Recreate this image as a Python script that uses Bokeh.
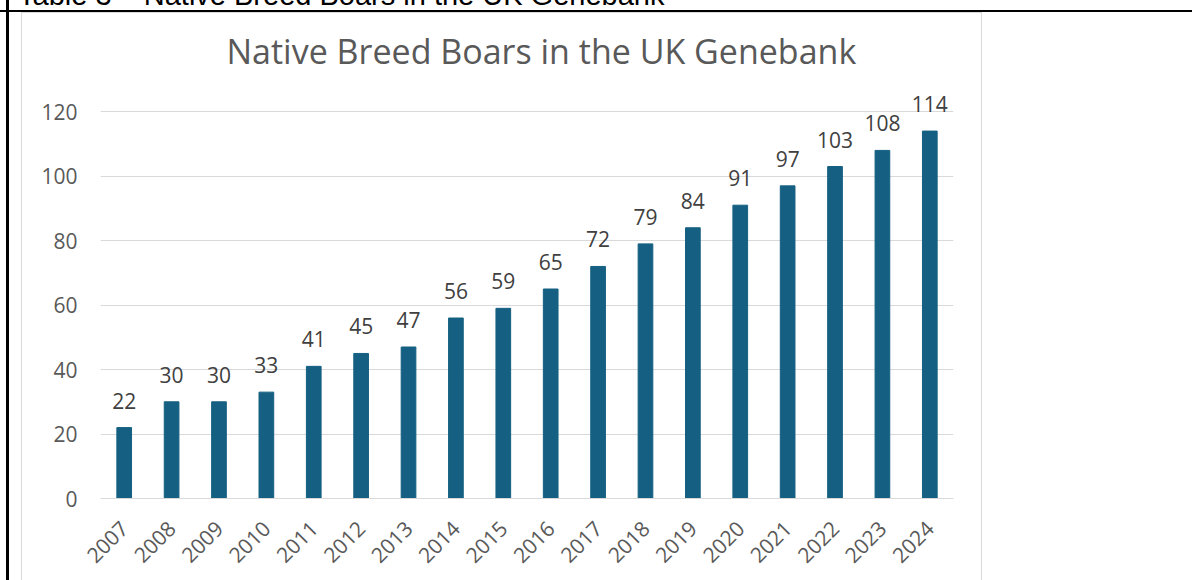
from bokeh.plotting import figure
from bokeh.models import ColumnDataSource, Range1d, FactorRange, FixedTicker, Div
from bokeh.layouts import column
from bokeh.core.properties import value
from bokeh.embed import file_html
from bokeh.resources import INLINE
import math

years = ["2007", "2008", "2009", "2010", "2011", "2012", "2013", "2014", "2015",
         "2016", "2017", "2018", "2019", "2020", "2021", "2022", "2023", "2024"]
boars = [22, 30, 30, 33, 41, 45, 47, 56, 59, 65, 72, 79, 84, 91, 97, 103, 108, 114]
y_ticks = [0, 20, 40, 60, 80, 100, 120]
title_text = "Native Breed Boars in the UK Genebank"
caption_text = "Table 3 \u2013 Native Breed Boars in the UK Genebank"

FONT = "Open Sans"
BAR = "#156082"
GRID = "#D9D9D9"
TOP = 7  # height of the (mostly cut off, as in the reference) document caption strip above the chart

# document caption, only its lower edge visible at the top of the page
cap = Div(text=('<div style="position:relative; top:-19px; left:18px; white-space:nowrap; '
                'font-family:\'Liberation Sans\', Arial, sans-serif; font-size:29px; line-height:1; '
                'color:#000000">' + caption_text + '</div>'),
          width=1192, height=TOP, margin=0,
          styles={"overflow": "hidden",
                  "background-color": "white",
                  "background-image": "linear-gradient(#000000, #000000)",
                  "background-position": "6px 0px",
                  "background-size": "3px 100%",
                  "background-repeat": "no-repeat"})

src = ColumnDataSource(dict(x=years, y=boars, lab=[str(v) for v in boars]))

p = figure(width=1192, height=580 - TOP, x_range=FactorRange(*years, range_padding=0),
           y_range=Range1d(0, 130), output_backend="svg", toolbar_location=None,
           min_border_left=100, min_border_right=239, min_border_top=79 - TOP, min_border_bottom=82,
           margin=0)
p.outline_line_color = None
p.background_fill_color = None
p.border_fill_color = None

# table borders and chart-area box, drawn as CSS background behind the transparent canvas
p.styles = {
    "background-color": "white",
    "background-image": ", ".join(["linear-gradient(#000000, #000000)"] * 2 +
                                  ["linear-gradient(#D9D9D9, #D9D9D9)"] * 3),
    "background-position": "0px %dpx, 6px 0px, 21px %dpx, 981px %dpx, 21px %dpx" % (10 - TOP, 12 - TOP, 12 - TOP, 12 - TOP),
    "background-size": "100% 2px, 3px 100%, 1px 100%, 1px 100%, 961px 1px",
    "background-repeat": "no-repeat",
}

p.title.text = title_text
p.title.align = "left"
p.title.offset = 126
p.title.standoff = 12
p.title.text_font = FONT
p.title.text_font_size = "34px"
p.title.text_font_style = "normal"
p.title.text_color = "#595959"

p.vbar(x="x", top="y", width=0.31, source=src, fill_color=BAR, line_color=BAR)
p.text(x="x", y="y", text="lab", source=src, text_align="center", text_baseline="alphabetic",
       y_offset=-27, text_font=value(FONT), text_font_size="21px", text_color="#404040")

p.xgrid.grid_line_color = None
p.ygrid.grid_line_color = GRID
p.ygrid.grid_line_width = 1

p.yaxis.ticker = FixedTicker(ticks=y_ticks)
p.yaxis.axis_line_color = None
p.yaxis.major_tick_line_color = None
p.yaxis.minor_tick_line_color = None
p.yaxis.major_tick_out = 0
p.yaxis.major_label_standoff = 23
p.yaxis.major_label_text_font = FONT
p.yaxis.major_label_text_font_size = "21px"
p.yaxis.major_label_text_color = "#595959"

p.xaxis.axis_line_color = GRID
p.xaxis.major_tick_line_color = None
p.xaxis.minor_tick_line_color = None
p.xaxis.major_tick_out = 0
p.xaxis.major_label_orientation = math.pi / 4
p.xaxis.major_label_standoff = 26
p.xaxis.major_label_text_font = FONT
p.xaxis.major_label_text_font_size = "21px"
p.xaxis.major_label_text_color = "#595959"

page = column(cap, p, spacing=0, margin=0)

open("out.html", "w").write(file_html(page, INLINE))
